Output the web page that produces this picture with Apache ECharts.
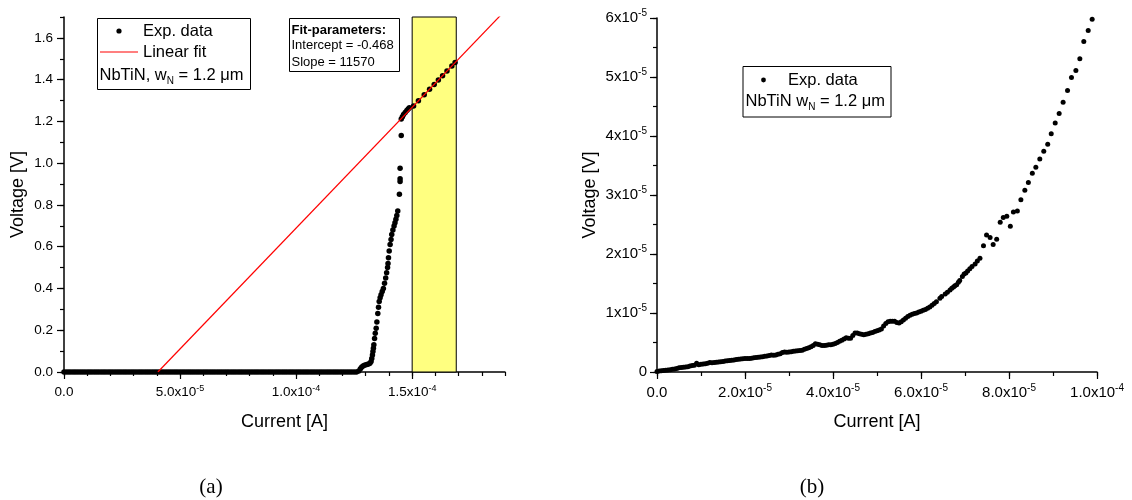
<!DOCTYPE html>
<html>
<head>
<meta charset="utf-8">
<script src="https://cdn.jsdelivr.net/npm/echarts@6/dist/echarts.min.js"></script>
<style>
  html, body { margin: 0; padding: 0; background: #fff; }
  #chart { width: 1132px; height: 500px; }
</style>
</head>
<body>
<div id="chart"></div>
<script>
// (a) full sweep: current in µA, voltage in V
const sweepACurrent = [
  0, 1, 2, 3, 4, 5, 6, 7, 8, 9, 10, 11, 12, 13, 14, 15, 16, 17, 18, 19,
  20, 21, 22, 23, 24, 25, 26, 27, 28, 29, 30, 31, 32, 33, 34, 35, 36, 37, 38, 39,
  40, 41, 42, 43, 44, 45, 46, 47, 48, 49, 50, 51, 52, 53, 54, 55, 56, 57, 58, 59,
  60, 61, 62, 63, 64, 65, 66, 67, 68, 69, 70, 71, 72, 73, 74, 75, 76, 77, 78, 79,
  80, 81, 82, 83, 84, 85, 86, 87, 88, 89, 90, 91, 92, 93, 94, 95, 96, 97, 98, 99,
  100, 101, 102, 103, 104, 105, 106, 107, 108, 109, 110, 111, 112, 113, 114, 115, 116, 117, 118, 119,
  120, 121, 122, 123, 124, 125, 126,
  127, 127.7, 128.3, 129, 129.7, 130.5, 131.2, 131.8, 132.3, 132.6,
  132.9, 133.1, 133.3, 133.5, 133.8, 134.1, 134.5, 134.8, 135.2, 135.5,
  135.8, 136.2, 136.6, 137.1, 137.6, 138.1, 138.6, 139.0, 139.4, 139.6,
  139.8, 140.1, 140.5, 140.9, 141.2, 141.7, 142.2, 142.6, 143.0, 143.4,
  143.8, 144.5, 144.8, 144.8, 144.8, 145.3, 145.3, 145.8, 146.3, 147.0,
  147.7, 148.3, 148.8,
  150.6, 152.7, 155.2, 157.5, 159.5, 161.3, 163.1, 165.0, 167.1, 168.5
];
const sweepAVoltage = [
  0, 0, 0, 0, 0, 0, 0, 0, 0, 0, 0, 0, 0, 0, 0, 0, 0, 0, 0, 0,
  0, 0, 0, 0, 0, 0, 0, 0, 0, 0, 0, 0, 0, 0, 0, 0, 0, 0, 0, 0,
  0, 0, 0, 0, 0, 0, 0, 0, 0, 0, 0, 0, 0, 0, 0, 0, 0, 0, 0, 0,
  0, 0, 0, 0, 0, 0, 0, 0, 0, 0, 0, 0, 0, 0, 0, 0, 0, 0, 0, 0,
  0, 0, 0, 0, 0, 0, 0, 0, 0, 0, 0, 0, 0, 0, 0, 0, 0, 0, 0, 0,
  0, 0, 0, 0, 0, 0, 0, 0, 0, 0, 0, 0, 0, 0, 0, 0, 0, 0, 0, 0,
  0, 0, 0, 0, 0, 0, 0,
  0.005, 0.015, 0.024, 0.03, 0.033, 0.036, 0.038, 0.042, 0.05, 0.065,
  0.082, 0.098, 0.114, 0.13, 0.16, 0.185, 0.21, 0.24, 0.28, 0.31,
  0.338, 0.355, 0.37, 0.385, 0.40, 0.425, 0.45, 0.475, 0.5, 0.52,
  0.547, 0.58, 0.611, 0.635, 0.659, 0.68, 0.699, 0.715, 0.731, 0.75,
  0.771, 0.851, 0.912, 0.925, 0.976, 1.132, 1.212, 1.222, 1.233, 1.243,
  1.252, 1.259, 1.265,
  1.274, 1.299, 1.328, 1.354, 1.377, 1.398, 1.419, 1.441, 1.465, 1.482
];

// (b) low-current sweep: current in µA, voltage in µV
const sweepBCurrent = [
  0, 0.5, 1, 1.5, 2, 2.5, 3, 3.5, 4, 4.5, 5, 5.5, 6, 6.5, 7, 7.5, 8, 8.5, 9, 9.5,
  10, 10.5, 11, 11.5, 12, 12.5, 13, 13.5, 14, 14.5, 15, 15.5, 16, 16.5, 17, 17.5, 18, 18.5, 19, 19.5,
  20, 20.5, 21, 21.5, 22, 22.5, 23, 23.5, 24, 24.5, 25, 25.5, 26, 26.5, 27, 27.5, 28, 28.5, 29, 29.5,
  30, 30.5, 31, 31.5, 32, 32.5, 33, 33.5, 34, 34.5, 35, 35.5, 36, 36.5, 37, 37.5, 38, 38.5, 39, 39.5,
  40, 40.5, 41, 41.5, 42, 42.5, 43, 43.5, 44, 44.5, 45, 45.5, 46, 46.5, 47, 47.5, 48, 48.5, 49, 49.5,
  50, 50.5, 51, 51.5, 52, 52.5, 53, 53.5, 54, 54.5, 55, 55.5, 56, 56.5, 57, 57.5, 58, 58.5, 59, 59.5,
  60, 60.5, 61, 61.5, 62, 62.5, 63, 63.5,
  64.3, 64.7, 65.5, 66.0, 66.6, 67.0, 67.4, 67.7, 68.1, 68.5,
  68.8, 69.4, 69.8, 70.2, 70.6, 71.1, 71.6, 72.3, 72.8, 73.4,
  74.2, 74.9, 75.7, 76.4, 77.2, 78.0, 78.7, 79.5, 80.3, 81.0,
  81.9, 82.7, 83.6, 84.4, 85.3, 86.1, 87.0, 87.9, 88.8, 89.6,
  90.5, 91.4, 92.3, 93.3, 94.2, 95.2, 96.1, 97.0, 98.0, 98.9
];
const sweepBVoltage = [
  0.1, 0.15, 0.2, 0.25, 0.3, 0.35, 0.4, 0.45, 0.5, 0.6, 0.7, 0.75, 0.8, 0.85, 0.9, 1.0, 1.1, 1.15, 1.5, 1.25,
  1.3, 1.35, 1.4, 1.5, 1.6, 1.55, 1.6, 1.65, 1.7, 1.75, 1.8, 1.85, 1.9, 1.95, 2.0, 2.05, 2.1, 2.15, 2.2, 2.25,
  2.3, 2.3, 2.3, 2.35, 2.4, 2.45, 2.5, 2.55, 2.6, 2.65, 2.7, 2.8, 2.9, 2.85, 2.9, 3.0, 3.1, 3.3, 3.4, 3.35,
  3.4, 3.45, 3.5, 3.55, 3.6, 3.65, 3.7, 3.85, 4.0, 4.1, 4.3, 4.5, 4.8, 4.7, 4.6, 4.5, 4.5, 4.55, 4.6, 4.6,
  4.7, 4.85, 5.0, 5.2, 5.4, 5.6, 5.8, 5.7, 5.7, 6.2, 6.6, 6.6, 6.5, 6.4, 6.3, 6.4, 6.5, 6.6, 6.7, 6.85,
  7.0, 7.1, 7.3, 7.8, 8.2, 8.5, 8.6, 8.6, 8.6, 8.4, 8.3, 8.5, 8.8, 9.1, 9.4, 9.6, 9.8, 9.9, 10.0, 10.15,
  10.3, 10.45, 10.6, 10.8, 11.0, 11.3, 11.6, 11.9,
  12.5, 12.8, 13.2, 13.5, 13.9, 14.2, 14.4, 14.6, 14.8, 15.2,
  15.5, 16.2, 16.6, 16.8, 17.1, 17.5, 17.9, 18.3, 18.8, 19.3,
  21.4, 23.2, 22.8, 21.6, 22.5, 25.4, 26.2, 26.4, 24.7, 27.1,
  27.3, 29.2, 30.8, 32.1, 33.7, 34.7, 36.1, 37.4, 38.6, 40.4,
  42.2, 43.8, 45.7, 47.7, 49.9, 51.1, 53.1, 56.0, 57.9, 59.8
];

// Linear fit of the resistive branch and the current window it was fitted in
const fitIntercept = -0.468;   // V
const fitSlope = 11570;        // V/A
const fitWindow = [150, 169];  // µA

// Labelled ticks
const aCurrentTicks = [0, 5e-5, 1e-4, 1.5e-4];
const aVoltageTicks = [0, 0.2, 0.4, 0.6, 0.8, 1.0, 1.2, 1.4, 1.6];
const bCurrentTicks = [0, 2e-5, 4e-5, 6e-5, 8e-5, 1e-4];
const bVoltageTicks = [0, 1e-5, 2e-5, 3e-5, 4e-5, 5e-5, 6e-5];

const FONT = 'Liberation Sans, Arial, sans-serif';
const SERIF = 'Liberation Serif, DejaVu Serif, serif';

const pointsA = sweepACurrent.map((c, i) => [c * 1e-6, sweepAVoltage[i]]);
const pointsB = sweepBCurrent.map((c, i) => [c * 1e-6, sweepBVoltage[i] * 1e-6]);

const aXMax = 1.9e-4, aYMax = 1.7;
const fitStart = -fitIntercept / fitSlope;
const fitLine = [[fitStart, 0], [aXMax, fitIntercept + fitSlope * aXMax]];

function sci(v, digits) {
  const e = Math.floor(Math.log10(v) + 1e-9);
  const m = v / Math.pow(10, e);
  return '{m|' + m.toFixed(digits) + 'x10}{e|' + e + '}';
}
const sciRich = size => ({
  m: { fontFamily: FONT, fontSize: size, color: '#000', lineHeight: size + 4 },
  e: { fontFamily: FONT, fontSize: Math.round(size * 0.65), color: '#000',
       lineHeight: Math.round(size * 0.65), verticalAlign: 'top' }
});

const axisLineStyle = { color: '#000', width: 1.5 };
const tickStyle = { color: '#000', width: 1.2 };

function minorAxis(grid, min, max, interval, pos) {
  return {
    type: 'value', gridIndex: grid, position: pos, min: min, max: max, interval: interval,
    axisLine: { show: true, onZero: false, lineStyle: axisLineStyle },
    axisTick: { show: true, inside: false, length: 4, lineStyle: tickStyle },
    axisLabel: { show: false },
    splitLine: { show: false }
  };
}
function majorAxis(grid, min, max, ticks, pos, fmt, name, gap, margin, size) {
  return {
    type: 'value', gridIndex: grid, position: pos, min: min, max: max,
    name: name, nameLocation: 'middle', nameGap: gap,
    nameTextStyle: { fontFamily: FONT, fontSize: 18, color: '#000' },
    axisLine: { show: false, onZero: false },
    axisTick: { show: true, inside: false, length: 7, lineStyle: tickStyle, customValues: ticks },
    axisLabel: {
      show: true, customValues: ticks, formatter: fmt, margin: margin,
      fontFamily: FONT, fontSize: size, color: '#000', rich: sciRich(size)
    },
    splitLine: { show: false }
  };
}

const legendText = (text, x, y) => ({
  type: 'text', z: 11,
  style: { text: text, x: x, y: y, font: '16.5px ' + FONT, fill: '#000',
    verticalAlign: 'middle', textVerticalAlign: 'middle' }
});
const sampleText = (text, x, y) => ({
  type: 'text', z: 11,
  style: {
    text: text, x: x, y: y, verticalAlign: 'middle', textVerticalAlign: 'middle',
    rich: {
      t: { fontFamily: FONT, fontSize: 16.5, lineHeight: 22, fill: '#000', color: '#000' },
      s: { fontFamily: FONT, fontSize: 10, lineHeight: 10, verticalAlign: 'bottom', fill: '#000', color: '#000' }
    }
  }
});
const fitText = (text, y, bold) => ({
  type: 'text', z: 11,
  style: { text: text, x: 291.5, y: y, font: (bold ? 'bold ' : '') + '13px ' + FONT, fill: '#000',
    verticalAlign: 'middle', textVerticalAlign: 'middle' }
});

const chart = echarts.init(document.getElementById('chart'));
chart.setOption({
  animation: false,
  backgroundColor: '#fff',
  grid: [
    { left: 64, top: 17, width: 441, height: 355 },
    { left: 657, top: 18, width: 440, height: 354 }
  ],
  xAxis: [
    minorAxis(0, 0, aXMax, 1e-5, 'bottom'),
    majorAxis(0, 0, aXMax, aCurrentTicks, 'bottom',
      v => (v === 0 ? '{m|0.0}' : sci(v, 1)), 'Current [A]', 41, 12, 13.5),
    minorAxis(1, 0, 1e-4, 1e-5, 'bottom'),
    majorAxis(1, 0, 1e-4, bCurrentTicks, 'bottom',
      v => (v === 0 ? '{m|0.0}' : sci(v, 1)), 'Current [A]', 41, 11, 15)
  ],
  yAxis: [
    minorAxis(0, 0, aYMax, 0.1, 'left'),
    majorAxis(0, 0, aYMax, aVoltageTicks, 'left',
      v => '{m|' + v.toFixed(1) + '}', 'Voltage [V]', 37, 11, 13.5),
    minorAxis(1, 0, 6e-5, 0.5e-5, 'left'),
    majorAxis(1, 0, 6e-5, bVoltageTicks, 'left',
      v => (v === 0 ? '{m|0}' : sci(v, 0)), 'Voltage [V]', 58, 10, 15)
  ],
  series: [
    {
      type: 'scatter', xAxisIndex: 0, yAxisIndex: 0, z: 2,
      symbol: 'circle', symbolSize: 5.5,
      itemStyle: { color: '#000', opacity: 1 },
      data: pointsA,
      markArea: {
        silent: true,
        itemStyle: { color: '#ffff80', opacity: 1, borderColor: '#000', borderWidth: 1 },
        data: [[
          { xAxis: fitWindow[0] * 1e-6, yAxis: 0 },
          { xAxis: fitWindow[1] * 1e-6, yAxis: aYMax }
        ]]
      }
    },
    {
      type: 'line', xAxisIndex: 0, yAxisIndex: 0, z: 3,
      showSymbol: false, clip: true,
      lineStyle: { color: '#ff0000', width: 1.2 },
      data: fitLine
    },
    {
      type: 'scatter', xAxisIndex: 2, yAxisIndex: 2, z: 2,
      symbol: 'circle', symbolSize: 5,
      itemStyle: { color: '#000', opacity: 1 },
      data: pointsB
    }
  ],
  graphic: [
    // legend of panel (a)
    { type: 'rect', shape: { x: 97.5, y: 18.5, width: 153, height: 71 },
      style: { fill: '#fff', stroke: '#000', lineWidth: 1 }, z: 10 },
    { type: 'circle', shape: { cx: 119, cy: 31, r: 2.6 }, style: { fill: '#000' }, z: 11 },
    legendText('Exp. data', 143, 31),
    { type: 'line', shape: { x1: 100, y1: 52, x2: 138, y2: 52 },
      style: { stroke: '#ff0000', lineWidth: 1.2 }, z: 11 },
    legendText('Linear fit', 143, 52),
    sampleText('{t|NbTiN, w}{s|N}{t| = 1.2 μm}', 99.5, 75),
    // fit parameters
    { type: 'rect', shape: { x: 289.5, y: 18.5, width: 110, height: 53 },
      style: { fill: '#fff', stroke: '#000', lineWidth: 1 }, z: 10 },
    fitText('Fit-parameters:', 30, true),
    fitText('Intercept = ' + fitIntercept.toFixed(3), 45.5, false),
    fitText('Slope = ' + fitSlope, 62, false),
    // legend of panel (b)
    { type: 'rect', shape: { x: 743, y: 66.5, width: 148, height: 50.5 },
      style: { fill: '#fff', stroke: '#000', lineWidth: 1 }, z: 10 },
    { type: 'circle', shape: { cx: 763.5, cy: 80, r: 2.4 }, style: { fill: '#000' }, z: 11 },
    legendText('Exp. data', 788, 80),
    sampleText('{t|NbTiN w}{s|N}{t| = 1.2 μm}', 745.5, 101),
    // panel captions
    { type: 'text', z: 11, style: { text: '(a)', x: 211, y: 487, font: '21px ' + SERIF, fill: '#000',
      align: 'center', textAlign: 'center', verticalAlign: 'middle', textVerticalAlign: 'middle' } },
    { type: 'text', z: 11, style: { text: '(b)', x: 812, y: 487, font: '21px ' + SERIF, fill: '#000',
      align: 'center', textAlign: 'center', verticalAlign: 'middle', textVerticalAlign: 'middle' } }
  ]
});
</script>
</body>
</html>
